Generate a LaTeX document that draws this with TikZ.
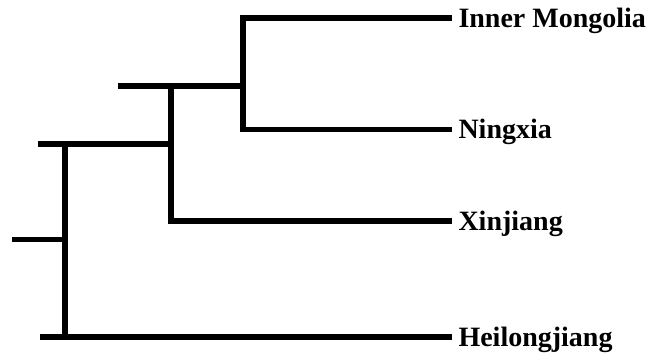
\documentclass[tikz,border=0pt]{standalone}
\usepackage{fontspec}
\setmainfont{Liberation Serif}
\begin{document}
\begin{tikzpicture}[x=1pt, y=-1pt,
  branch/.style={line width=5.5pt, line cap=butt, line join=miter},
  leaf/.style={anchor=west, inner sep=0pt, outer xsep=6.5pt,
    text height=18.5pt, text depth=0pt,
    font=\fontsize{28}{30}\selectfont\bfseries}]
  \useasboundingbox (0,0) rectangle (647,356);

  % leaf labels
  \node[leaf] (IM) at (452,18)    {Inner Mongolia};
  \node[leaf] (NX) at (452,129.5) {Ningxia};
  \node[leaf] (XJ) at (452,221)   {Xinjiang};
  \node[leaf] (HL) at (452,337)   {Heilongjiang};

  % internal nodes and stub ends
  \coordinate (n1) at (243,86);
  \coordinate (s1) at (118,86);
  \coordinate (j1) at (171,86);
  \coordinate (n2) at (171,144);
  \coordinate (s2) at (38,144);
  \coordinate (j2) at (65,144);
  \coordinate (j3) at (65,337);
  \coordinate (s3) at (40,337);
  \coordinate (n3) at (65,239.5);
  \coordinate (s4) at (12,239.5);

  % branches
  \draw[branch] (IM.west) -| (n1) |- (NX.west);
  \draw[branch] (n1) -- (s1);
  \draw[branch] (XJ.west) -| (j1);
  \draw[branch] (n2) -- (s2);
  \draw[branch] (j2) -- (j3);
  \draw[branch] (HL.west) -- (s3);
  \draw[branch] (n3) -- (s4);
\end{tikzpicture}
\end{document}
